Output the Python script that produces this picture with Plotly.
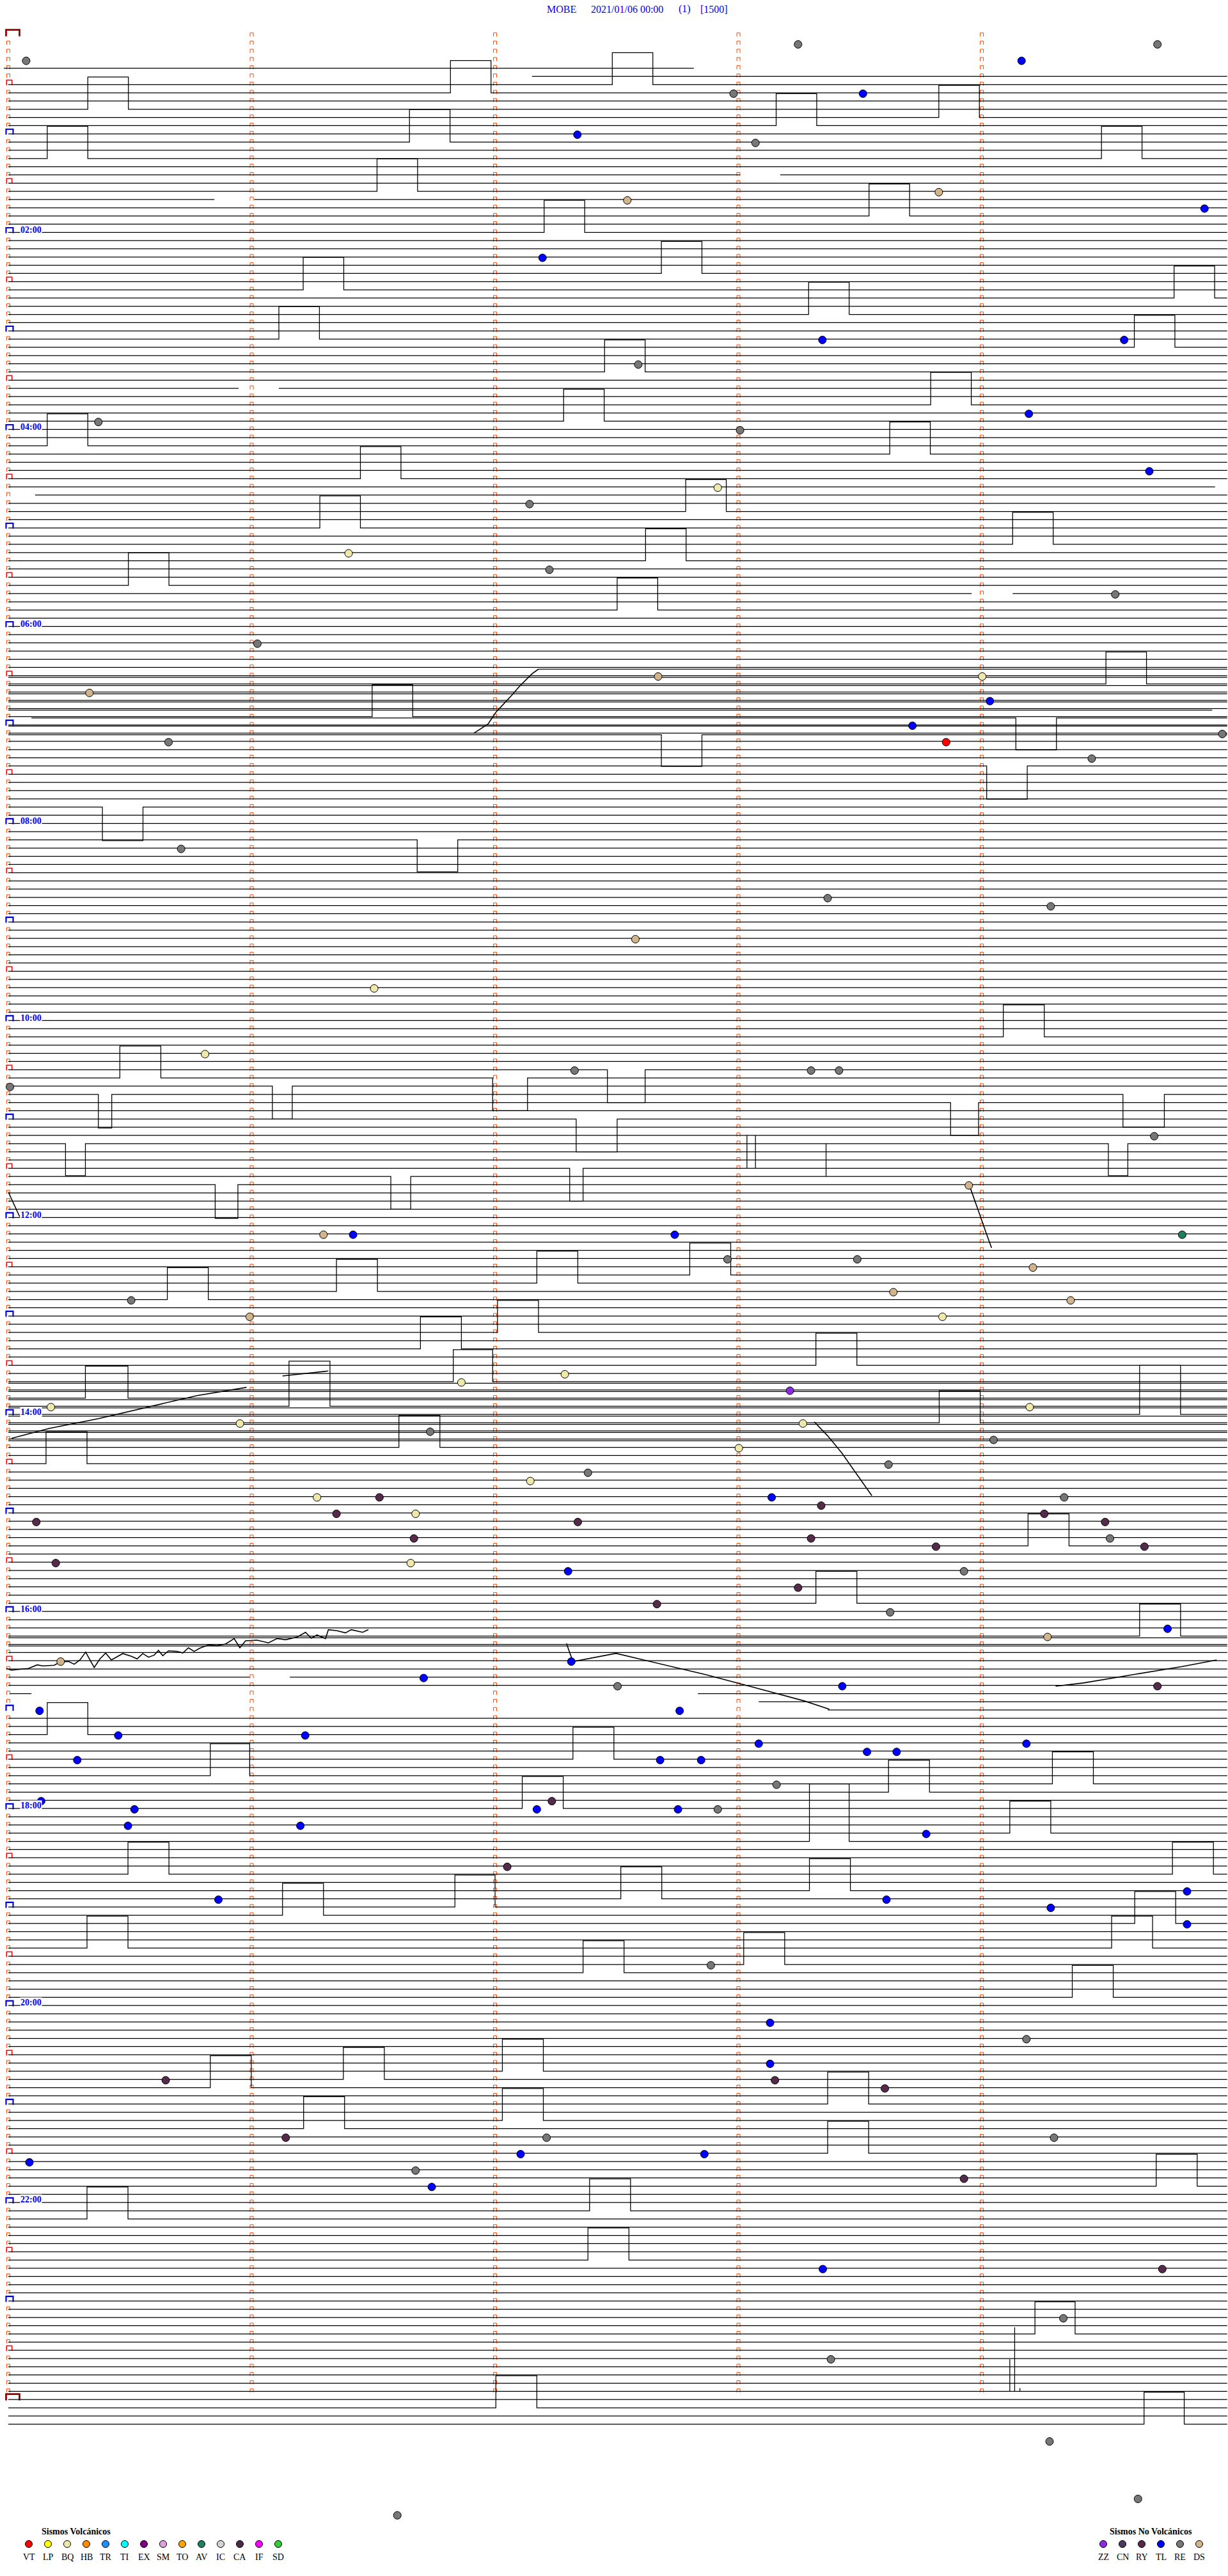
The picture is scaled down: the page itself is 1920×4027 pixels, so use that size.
import plotly.graph_objects as go

# ======================= DATA =======================
station_title = ["MOBE", "2021/01/06 00:00", "(1)", "[1500]"]

hour_label_rows = [24, 48, 72, 96, 120, 144, 168, 192, 216, 240, 264]
hour_label_text = ["02:00", "04:00", "06:00", "08:00", "10:00", "12:00",
                   "14:00", "16:00", "18:00", "20:00", "22:00"]

volc_codes = ["VT", "LP", "BQ", "HB", "TR", "TI", "EX", "SM", "TO", "AV", "IC", "CA", "IF", "SD"]
volc_colors = ["#FF0000", "#FFFF00", "#EEE8AA", "#FF8C00", "#1E90FF", "#00FFFF", "#800080",
               "#DDA0DD", "#FFA500", "#1F7F5F", "#D3D3D3", "#4A2C48", "#FF00FF", "#32CD32"]
nonvolc_codes = ["ZZ", "CN", "RY", "TL", "RE", "DS"]
nonvolc_colors = ["#8A2BE2", "#4A3A5E", "#552A4A", "#0000FF", "#777777", "#D2B48C"]

# rows (5-minute lines) and seconds inside the row
marker_rows = 288            # rows 0..287 carry minute ticks
trace_first_row, trace_last_row = 6, 291
row_seconds = 300.5

# rows drawn only partly: (row, start_s, end_s)
partial_rows = [(4, -1.1, 169.0), (5, 129.1, 300.5), (55, 0.0, 297.5), (56, 6.6, 300.5),
                (202, 170.0, 300.5), (203, 185.0, 300.5), (204, 202.0, 300.5)]

# extra (doubled) trace lines: (row position, start_s, end_s)
extra_lines = [(77.2, 130.7, 300.5), (78.2, 0.0, 300.5), (79.2, 0.0, 300.5), (80.2, 0.0, 300.5),
               (81.2, 0.0, 300.5), (82.2, 0.0, 296.8), (83.15, 5.7, 300.5), (84.15, 0.0, 300.5),
               (85.2, 0.0, 300.5), (202, 0.4, 5.7),
               (164.2, 0.0, 300.5), (165.2, 0.0, 300.5), (166.2, 0.0, 300.5), (167.2, 0.0, 300.5),
               (168.2, 0.0, 300.5), (169.2, 0.0, 300.5), (170.2, 0.0, 300.5), (171.2, 0.0, 300.5),
               (195.2, 0.0, 300.5), (196.2, 0.0, 300.5)]

# gaps in the trace: (row, start_s, end_s)
gaps = [(17, 180.4, 190.3), (20, 50.8, 60.6), (43, 56.8, 66.7), (68, 237.5, 247.6),
        (200, 59.5, 69.4)]

# steps of the trace: (row, start_s, end_s, offset in rows; negative = up)
boxes = [(9, 19.6, 29.6, -3.93), (7, 109.0, 119.0, -3.93), (6, 148.9, 158.9, -3.9),
         (10, 229.4, 239.4, -3.92), (11, 189.3, 199.3, -3.9), (13, 98.9, 108.9, -3.96),
         (15, 9.6, 19.6, -3.93), (15, 269.5, 279.5, -3.93), (19, 90.9, 100.9, -3.96),
         (22, 212.2, 222.2, -3.9), (24, 132.1, 142.1, -3.9), (31, 72.7, 82.7, -3.95),
         (29, 161.0, 171.0, -3.9), (32, 287.4, 297.4, -3.9), (34, 197.3, 207.3, -3.94),
         (37, 66.7, 76.7, -3.95), (38, 277.6, 287.6, -3.9), (41, 147.0, 157.0, -3.9),
         (47, 136.9, 146.9, -3.9), (45, 227.4, 237.4, -3.95), (50, 9.6, 19.6, -3.9),
         (51, 217.3, 227.3, -3.9), (54, 86.8, 96.8, -3.9), (58, 167.0, 177.0, -3.9),
         (60, 76.8, 86.8, -3.9), (62, 247.6, 257.6, -3.9), (64, 157.1, 167.1, -3.9),
         (67, 29.6, 39.6, -3.97), (70, 150.1, 160.1, -3.9), (83, 89.7, 99.7, -3.9),
         (79, 270.6, 280.6, -3.9), (85.2, 161.0, 171.0, 3.85), (83.15, 248.4, 258.4, 3.9),
         (89, 241.2, 251.2, 4.05), (94, 23.2, 33.2, 4.1), (98, 100.8, 110.8, 3.9),
         (122, 245.3, 255.4, -3.9), (127, 27.5, 37.6, -3.9), (129, 22.2, 25.5, 4.1),
         (128, 65.1, 70.0, 4.0), (127, 119.4, 128.0, 4.0), (126, 147.7, 157.0, 4.0),
         (132, 140.0, 150.1, 4.0), (130, 232.3, 239.2, 4.0), (129, 274.8, 285.0, 4.0),
         (135, 14.1, 19.0, 3.9), (140, 51.0, 56.6, 4.1), (139, 94.3, 99.2, 4.0),
         (138, 138.4, 141.7, 4.0), (135, 271.2, 276.0, 3.9),
         (154, 39.2, 49.3, -3.9), (153, 80.9, 91.0, -3.9), (152, 130.3, 140.4, -3.9),
         (151, 168.0, 178.1, -3.9), (160, 101.6, 111.7, -3.9), (158, 120.6, 130.7, -3.9),
         (162, 199.1, 209.2, -3.9), (164, 109.7, 119.4, -3.9), (166, 19.0, 29.5, -3.9),
         (167, 69.2, 79.3, -5.5), (168, 278.9, 289.0, -6.0), (169, 229.5, 239.6, -3.9),
         (172, 96.3, 106.4, -3.9), (174, 9.3, 19.4, -3.9), (184, 251.4, 261.5, -3.9),
         (191, 199.1, 209.2, -3.9), (195, 278.9, 289.0, -3.9), (207, 9.6, 19.6, -3.9),
         (212, 49.8, 59.5, -3.9), (210, 139.2, 149.3, -3.9), (213, 257.4, 267.5, -3.9),
         (214, 217.0, 227.1, -3.9), (216, 126.7, 136.8, -3.9), (220, 197.5, 207.3, -7.0),
         (219, 246.9, 257.0, -3.9), (224, 29.5, 39.6, -3.9), (224, 287.0, 297.1, -3.9),
         (227, 151.0, 161.1, -3.9), (226, 197.5, 207.6, -3.9), (228, 110.1, 120.0, -3.9),
         (230, 277.7, 287.8, -3.9), (229, 67.6, 77.7, -3.9), (233, 19.4, 29.5, -3.9),
         (235, 181.3, 191.4, -3.9), (236, 141.7, 151.8, -3.9), (233, 272.0, 282.1, -3.9),
         (239, 262.3, 272.4, -3.9), (249, 82.6, 92.7, -3.9), (250, 49.8, 59.9, -3.9),
         (248, 121.8, 131.9, -3.9), (252, 202.0, 212.1, -3.9), (255, 72.8, 82.9, -3.9),
         (254, 121.8, 131.9, -3.9), (258, 202.0, 212.1, -3.9), (262, 283.0, 293.1, -3.9),
         (266, 19.4, 29.5, -3.9), (265, 143.3, 153.4, -3.9), (271, 142.9, 153.0, -3.9),
         (280, 253.1, 263.0, -3.9), (289, 120.2, 130.3, -3.9), (291, 280.0, 289.9, -3.9)]

# short vertical spikes: (second, top row, bottom row)
spikes = [(182.1, 134.0, 138.0), (184.2, 134.0, 138.0), (201.6, 135.0, 139.0),
          (246.9, 283.1, 287.0), (248.1, 279.2, 287.0), (249.4, 286.6, 287.0)]

# slow drifts of the trace: lists of (second, row)
drift_a = [(114.8, 85.0), (116.3, 84.5), (118.3, 83.87), (119.2, 83.2), (120.2, 82.45),
           (122.2, 81.4), (124.1, 80.4), (126.0, 79.3), (127.6, 78.55), (129.1, 77.77), (130.7, 77.2)]
drift_b = [(236.8, 139.9), (238.2, 141.8), (239.6, 143.8), (241.0, 145.8), (242.4, 147.7)]
drift_c = [(0.0, 140.9), (1.4, 142.4), (2.8, 143.9)]
drift_d = [(0.8, 170.9), (10.1, 169.7), (22.2, 168.5), (34.4, 167.1), (46.5, 165.7), (58.7, 164.7)]
drift_e = [(67.6, 163.3), (73.0, 163.0), (78.9, 162.7)]
drift_f = [(198.7, 168.9), (202.0, 170.6), (205.5, 172.7), (208.8, 175.0), (211.0, 176.5), (212.9, 177.9)]
drift_g = [(-0.5, 198.94), (0.77, 199.15), (2.17, 199.07), (4.99, 198.94), (7.10, 198.50), (8.51, 198.63),
           (11.33, 198.55), (12.73, 198.16), (14.85, 198.08), (16.25, 198.42), (17.66, 197.90),
           (19.07, 196.94), (20.13, 197.90), (21.18, 198.81), (22.59, 197.77), (24.00, 197.07),
           (25.41, 197.90), (26.81, 197.51), (28.22, 197.12), (30.33, 197.46), (31.74, 197.77),
           (33.15, 197.12), (34.56, 197.57), (35.97, 197.31), (37.02, 196.73), (38.08, 197.38),
           (39.49, 196.79), (41.60, 196.86), (43.00, 197.05), (44.41, 196.42), (45.82, 196.86),
           (47.23, 196.47), (49.34, 196.08), (51.45, 196.16), (53.57, 195.95), (55.68, 195.30),
           (57.09, 196.42), (58.49, 195.57), (61.31, 195.49), (64.13, 195.82), (66.24, 195.30),
           (68.35, 195.44), (71.17, 195.12), (73.28, 194.53), (74.69, 195.25), (76.09, 194.86),
           (78.20, 195.30), (78.91, 194.21), (81.02, 194.34), (83.13, 194.60), (84.54, 194.21),
           (87.36, 194.53), (88.77, 194.21)]
drift_h = [(137.6, 195.9), (139.2, 198.1), (149.8, 197.1), (160.0, 198.3), (172.0, 199.7),
           (184.2, 201.3), (196.3, 202.9), (202.4, 203.9)]
drift_i = [(258.2, 201.1), (265.1, 200.7), (277.2, 199.7), (289.4, 198.7), (297.9, 197.9)]
drifts = [drift_a, drift_b, drift_c, drift_d, drift_e, drift_f, drift_g, drift_h, drift_i]

# picked events: (row, second, type)
events = [
    (3, 4.4, "RE"), (1, 194.7, "RE"), (1, 283.3, "RE"), (3, 249.8, "TL"), (7, 178.8, "RE"),
    (7, 210.7, "TL"), (12, 140.3, "TL"), (13, 184.2, "RE"), (20, 152.6, "DS"), (19, 229.4, "DS"),
    (21, 294.9, "TL"), (27, 131.7, "TL"), (37, 200.7, "TL"), (37, 275.1, "TL"), (40, 155.3, "RE"),
    (47, 22.2, "RE"), (48, 180.4, "RE"), (46, 251.6, "TL"), (53, 281.3, "TL"), (55, 174.9, "BQ"),
    (57, 128.5, "RE"), (63, 83.9, "BQ"), (65, 133.4, "RE"), (68, 272.9, "RE"), (74, 61.4, "RE"),
    (78, 160.2, "DS"), (78, 240.1, "BQ"), (80, 20.0, "DS"), (81, 242.0, "TL"), (84, 222.9, "TL"),
    (85, 299.3, "RE"), (86, 39.5, "RE"), (86, 231.2, "VT"), (88, 267.1, "RE"), (99, 42.6, "RE"),
    (105, 202.0, "RE"), (106, 257.0, "RE"), (110, 154.6, "DS"), (116, 90.2, "BQ"), (124, 48.5, "BQ"),
    (128, 0.4, "RE"), (126, 139.6, "RE"), (126, 197.9, "RE"), (126, 204.8, "RE"), (134, 282.5, "RE"),
    (140, 236.8, "DS"), (146, 77.7, "DS"), (146, 85.0, "TL"), (146, 164.3, "TL"), (146, 289.4, "AV"),
    (149, 177.3, "RE"), (149, 209.3, "RE"), (154, 30.3, "RE"), (153, 218.2, "DS"), (150, 252.6, "DS"),
    (154, 261.9, "DS"), (156, 59.5, "DS"), (156, 230.3, "BQ"), (163, 137.2, "BQ"), (164, 111.7, "BQ"),
    (165, 192.7, "ZZ"), (167, 10.5, "BQ"), (169, 57.1, "BQ"), (169, 195.9, "BQ"), (167, 251.8, "BQ"),
    (170, 104.0, "RE"), (171, 242.9, "RE"), (172, 180.1, "BQ"), (174, 217.0, "RE"), (175, 142.9, "RE"),
    (176, 128.7, "BQ"), (178, 76.1, "BQ"), (178, 91.5, "RY"), (178, 188.2, "TL"), (179, 200.4, "RY"),
    (178, 260.3, "RE"), (180, 80.9, "RY"), (180, 100.4, "BQ"), (180, 255.4, "RY"), (181, 6.9, "RY"),
    (181, 140.4, "RY"), (181, 270.4, "RY"), (183, 100.0, "RY"), (183, 197.9, "RY"), (183, 271.6, "RE"),
    (184, 280.1, "RY"), (184, 228.7, "RY"), (186, 11.7, "RY"), (186, 99.2, "BQ"), (187, 138.0, "TL"),
    (187, 235.6, "RE"), (189, 194.7, "RY"), (191, 159.9, "RY"), (192, 217.4, "RE"), (194, 285.8, "TL"),
    (195, 256.2, "DS"), (198, 12.9, "DS"), (198, 138.8, "TL"), (200, 102.4, "TL"), (201, 150.2, "RE"),
    (201, 205.6, "TL"), (201, 283.3, "RY"), (204, 7.7, "TL"), (204, 165.5, "TL"), (207, 27.1, "TL"),
    (207, 73.2, "TL"), (208, 185.0, "TL"), (208, 251.0, "TL"), (210, 17.0, "TL"), (210, 160.7, "TL"),
    (210, 170.8, "TL"), (209, 211.7, "TL"), (209, 219.0, "TL"), (213, 189.4, "RE"), (215, 8.1, "TL"),
    (216, 31.1, "TL"), (215, 134.0, "RY"), (216, 130.3, "TL"), (216, 165.1, "TL"), (216, 174.9, "RE"),
    (218, 29.5, "TL"), (218, 72.0, "TL"), (219, 226.3, "TL"), (223, 123.0, "RY"), (226, 290.6, "TL"),
    (227, 51.8, "TL"), (227, 216.5, "TL"), (228, 257.0, "TL"), (230, 290.6, "TL"), (235, 173.2, "RE"),
    (242, 187.8, "TL"), (244, 251.0, "RE"), (247, 187.8, "TL"), (249, 38.8, "RY"), (249, 189.0, "RY"),
    (250, 216.1, "RY"), (256, 68.4, "RY"), (256, 132.7, "RE"), (256, 257.8, "RE"), (259, 5.2, "TL"),
    (258, 126.3, "TL"), (258, 171.6, "TL"), (260, 100.4, "RE"), (262, 104.4, "TL"), (261, 235.6, "RY"),
    (272, 200.8, "TL"), (272, 284.5, "RY"), (278, 260.1, "RE"), (283, 202.8, "RE"), (293, 256.7, "RE"),
    (300, 278.5, "RE"), (302, 95.9, "RE"),
]

# ======================= GEOMETRY / STYLE =======================
W, H = 1920, 4027
X0, PXS = 13.0, 6.342      # pixel of second 0, pixels per second
Y0, PXR = 55.3, 12.833     # pixel of row 0, pixels per row

x_range = [(0 - X0) / PXS, (W - X0) / PXS]
y_range = [(H - Y0) / PXR, (0 - Y0) / PXR]
DOT_DY = 0.1

color_of = dict(zip(volc_codes + nonvolc_codes, volc_colors + nonvolc_colors))

# ---- trace lines ----
line_specs = []
partial_map = {r: (a, b) for r, a, b in partial_rows}
for r in range(4, trace_last_row + 1):
    if r in partial_map:
        a, b = partial_map[r]
        line_specs.append((r, a, b))
    elif r >= trace_first_row:
        line_specs.append((r, 0.0, row_seconds))
line_specs += extra_lines

lx, ly = [], []
for (yrow, a, b) in line_specs:
    evs = [("gap", s1, s2, 0.0) for (gr, s1, s2) in gaps if abs(gr - yrow) < 0.01]
    evs += [("box", s1, s2, amp) for (br, s1, s2, amp) in boxes if abs(br - yrow) < 0.01]
    evs = sorted([e for e in evs if a <= e[1] <= b], key=lambda e: e[1])
    xs, ys = [a], [yrow]
    for kind, s1, s2, amp in evs:
        if kind == "gap":
            xs += [s1, None, s2]
            ys += [yrow, None, yrow]
        else:
            xs += [s1, s1, s2, s2]
            ys += [yrow, yrow + amp, yrow + amp, yrow]
    xs += [b, None]
    ys += [yrow, None]
    lx += xs
    ly += ys

for s, rt, rb in spikes:
    lx += [s, s, None]
    ly += [rt, rb, None]

dx, dy = [], []
for d in drifts:
    dx += [p[0] for p in d] + [None]
    dy += [p[1] for p in d] + [None]

# ---- minute ticks (small orange brackets) ----
def bracket_path(cx_px, cy_px, w, top, bot):
    xs = [cx_px - w / 2, cx_px - w / 2, cx_px + w / 2, cx_px + w / 2, None]
    ys = [cy_px + bot, cy_px - top, cy_px - top, cy_px + bot, None]
    return [(x - X0) / PXS if x is not None else None for x in xs], \
           [(y - Y0) / PXR if y is not None else None for y in ys]

tick_x, tick_y = [], []
red_x, red_y = [], []
blue_x, blue_y = [], []
dred_x, dred_y = [], []
for r in range(marker_rows + 1):
    cy = Y0 + r * PXR
    for m in range(5):
        cx = X0 + m * 60 * PXS
        if m == 0:
            if r % 144 == 0 or r == marker_rows:
                if r == 0 or r == marker_rows:
                    px_, py_ = bracket_path(20.0, cy, 21, 8.6, 1.4)
                    dred_x += px_; dred_y += py_
                    continue
            if r % 12 == 0:
                px_, py_ = bracket_path(15.0, cy, 11, 7.3, 1.2)
                blue_x += px_; blue_y += py_
                continue
            if r % 6 == 0:
                px_, py_ = bracket_path(14.5, cy, 8.5, 7.0, 1.0)
                red_x += px_; red_y += py_
                continue
        if r >= marker_rows:
            continue
        px_, py_ = bracket_path(cx, cy, 5, 4.0, 1.7)
        tick_x += px_; tick_y += py_

fig = go.Figure()

fig.add_trace(go.Scatter(x=tick_x, y=tick_y, mode="lines", line=dict(color="#FF4500", width=1),
                         hoverinfo="skip"))
fig.add_trace(go.Scatter(x=red_x, y=red_y, mode="lines", line=dict(color="#FF0000", width=1.5),
                         hoverinfo="skip"))
fig.add_trace(go.Scatter(x=blue_x, y=blue_y, mode="lines", line=dict(color="#0000FF", width=2.2),
                         hoverinfo="skip"))
fig.add_trace(go.Scatter(x=dred_x, y=dred_y, mode="lines", line=dict(color="#990000", width=2.8),
                         hoverinfo="skip"))
fig.add_trace(go.Scatter(x=lx, y=ly, mode="lines", line=dict(color="black", width=1.25),
                         hoverinfo="skip"))
fig.add_trace(go.Scatter(x=dx, y=dy, mode="lines", line=dict(color="black", width=1.6),
                         hoverinfo="skip"))

# ---- events ----
fig.add_trace(go.Scatter(
    x=[e[1] for e in events], y=[e[0] + DOT_DY for e in events], mode="markers",
    marker=dict(size=12, color=[color_of[e[2]] for e in events], line=dict(color="black", width=1)),
    hoverinfo="skip"))

# ---- legends (pixel axes) ----
leg_x = [45 + 30 * i for i in range(len(volc_codes))] + [1725 + 30 * i for i in range(len(nonvolc_codes))]
leg_c = volc_colors + nonvolc_colors
fig.add_trace(go.Scatter(x=leg_x, y=[3977] * len(leg_x), xaxis="x2", yaxis="y2", mode="markers",
                         marker=dict(size=11, color=leg_c, line=dict(color="black", width=1)),
                         hoverinfo="skip"))

ann = []
serif = "Liberation Serif"
for code, xx in zip(volc_codes + nonvolc_codes, leg_x):
    ann.append(dict(x=xx, y=3997, xref="x2", yref="y2", text=code, showarrow=False,
                    xanchor="center", yanchor="middle",
                    font=dict(family=serif, size=14, color="black")))
ann.append(dict(x=63, y=3957, xref="x2", yref="y2", text="<b>Sismos Volcánicos</b>", showarrow=False,
                xanchor="left", yanchor="middle", font=dict(family=serif, size=14, color="black")))
ann.append(dict(x=1733, y=3957, xref="x2", yref="y2", text="<b>Sismos No Volcánicos</b>", showarrow=False,
                xanchor="left", yanchor="middle", font=dict(family=serif, size=14, color="black")))

title_x = [853, 922, 1059, 1093]
for t, xx in zip(station_title, title_x):
    ann.append(dict(x=xx, y=14, xref="x2", yref="y2", text=t, showarrow=False,
                    xanchor="left", yanchor="middle", font=dict(family=serif, size=16, color="#0000FF")))

for r, t in zip(hour_label_rows, hour_label_text):
    ann.append(dict(x=31, y=r - 0.33, xref="x2", yref="y", text="<b>" + t + "</b>", showarrow=False,
                    xanchor="left", yanchor="middle", bgcolor="white", borderpad=0,
                    font=dict(family=serif, size=14, color="#0000FF")))

fig.update_layout(
    width=W, height=H, margin=dict(l=0, r=0, t=0, b=0),
    paper_bgcolor="white", plot_bgcolor="white", showlegend=False,
    xaxis=dict(range=x_range, visible=False, fixedrange=True),
    yaxis=dict(range=y_range, visible=False, fixedrange=True),
    xaxis2=dict(range=[0, W], overlaying="x", visible=False, fixedrange=True),
    yaxis2=dict(range=[H, 0], overlaying="y", visible=False, fixedrange=True),
    annotations=ann,
)

fig.write_html("out.html", config={"displayModeBar": False},
               post_script="document.body.style.margin='0px';")
